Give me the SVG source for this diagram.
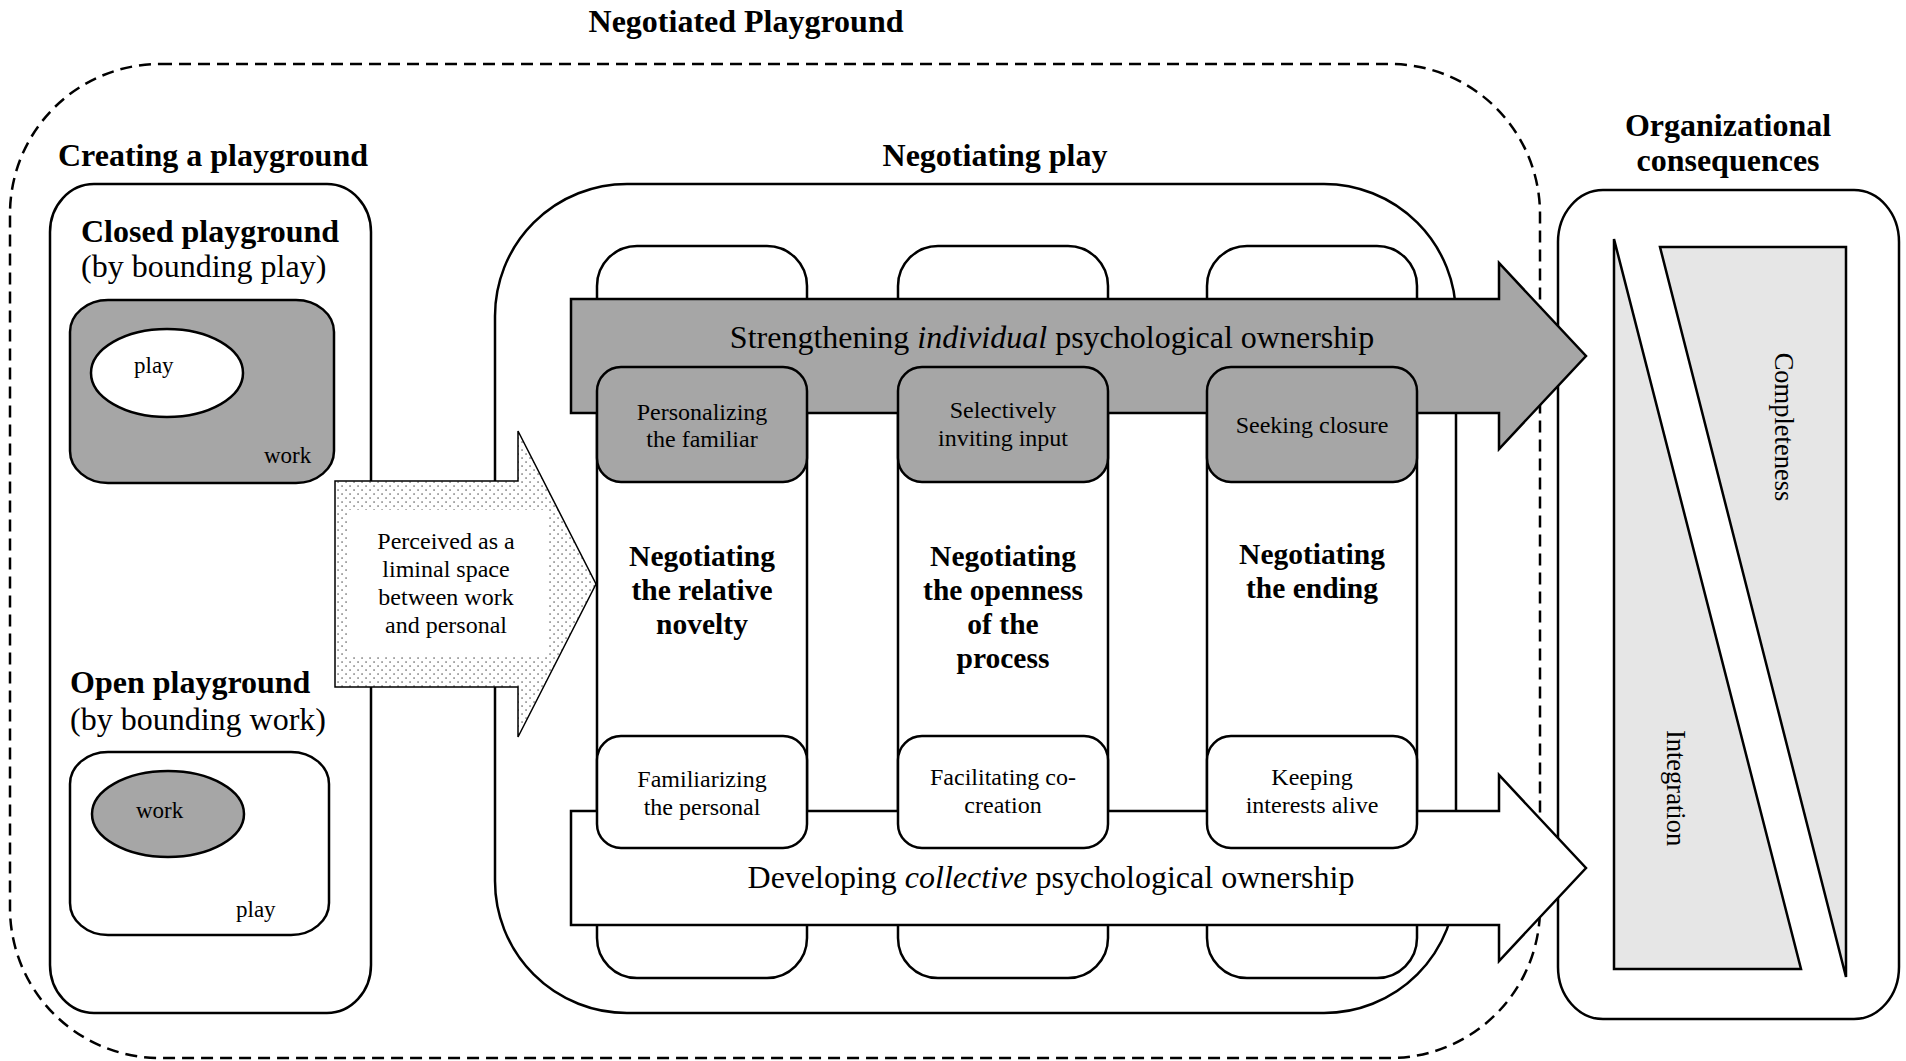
<svg xmlns="http://www.w3.org/2000/svg" width="1906" height="1061" viewBox="0 0 1906 1061">
<defs>
<style>
.t{font-family:"Liberation Serif","Times New Roman",serif;fill:#000}
.h{font-size:32px;font-weight:bold}
.r32{font-size:32px}
.s24{font-size:24px}
.s23{font-size:23px}
.b29{font-size:29.5px;font-weight:bold}
.m{text-anchor:middle}
.box{fill:#fff;stroke:#000;stroke-width:2.5}
.nofill{fill:none;stroke:#000;stroke-width:2.5}
.gray{fill:#a6a6a6;stroke:#000;stroke-width:2.5}
.lg{fill:#e6e6e6;stroke:#000;stroke-width:2.5}
</style>
<pattern id="dots" width="8" height="8" patternUnits="userSpaceOnUse">
<rect width="8" height="8" fill="#fff"/>
<rect x="1.5" y="1.5" width="1.1" height="1.1" fill="#000"/>
<rect x="5.5" y="5.5" width="1.1" height="1.1" fill="#000"/>
</pattern>
</defs>

<text class="t h m" x="746" y="32">Negotiated Playground</text>

<g id="negotiated-playground">
<rect x="10" y="64" width="1530" height="994" rx="150" ry="150" fill="none" stroke="#000" stroke-width="2.5" stroke-dasharray="12 7"/>
</g>

<g id="creating-playground">
<text class="t h" x="58" y="166">Creating a playground</text>
<rect class="box" x="50" y="184" width="321" height="829" rx="44" ry="48"/>
</g>

<g id="closed-playground">
<text class="t h" x="81" y="242">Closed playground</text>
<text class="t r32" x="81" y="277">(by bounding play)</text>
<rect class="gray" x="70" y="300" width="264" height="183" rx="38" ry="32"/>
<ellipse cx="167" cy="373" rx="76" ry="44" fill="#fff" stroke="#000" stroke-width="2.5"/>
<text class="t s23" x="134" y="373">play</text>
<text class="t s23" x="264" y="463">work</text>
</g>

<g id="open-playground">
<text class="t h" x="70" y="693">Open playground</text>
<text class="t r32" x="70" y="730">(by bounding work)</text>
<rect class="box" x="70" y="752" width="259" height="183" rx="38" ry="32"/>
<ellipse cx="168" cy="814" rx="76" ry="43" fill="#a6a6a6" stroke="#000" stroke-width="2.5"/>
<text class="t s23" x="136" y="818">work</text>
<text class="t s23" x="236" y="917">play</text>
</g>

<g id="negotiating-play">
<text class="t h m" x="995" y="166">Negotiating play</text>
<rect class="box" x="495" y="184" width="961" height="829" rx="132" ry="132"/>
</g>

<g id="organizational-consequences">
<text class="t h m" x="1728" y="136">Organizational</text>
<text class="t h m" x="1728" y="171">consequences</text>
<rect class="box" x="1558" y="190" width="341" height="829" rx="45" ry="52"/>
<polygon class="lg" points="1614,239 1614,969 1801,969"/>
<polygon class="lg" points="1660,247 1846,247 1846,977"/>
<text class="t m" style="font-size:26.5px" transform="translate(1775,427) rotate(90)">Completeness</text>
<text class="t m" style="font-size:26.5px" transform="translate(1667,788) rotate(90)">Integration</text>
</g>

<g id="columns">
<rect class="box" x="597" y="246" width="210" height="732" rx="40" ry="40"/>
<rect class="box" x="898" y="246" width="210" height="732" rx="40" ry="40"/>
<rect class="box" x="1207" y="246" width="210" height="732" rx="40" ry="40"/>
</g>

<g id="connectors">
<g id="individual-ownership-arrow">
<polygon class="gray" points="571,299 1499,299 1499,263 1586,356 1499,449 1499,413 571,413"/>
<text class="t r32 m" x="1052" y="348">Strengthening <tspan font-style="italic">individual</tspan> psychological ownership</text>
</g>
<g id="collective-ownership-arrow">
<polygon class="box" points="571,811 1499,811 1499,775 1586,868 1499,961 1499,925 571,925"/>
<text class="t r32 m" x="1051" y="888">Developing <tspan font-style="italic">collective</tspan> psychological ownership</text>
</g>
<g id="liminal-arrow">
<polygon points="335,481 518,481 518,431 596,584 518,737 518,687 335,687" fill="url(#dots)" stroke="#000" stroke-width="1.5"/>
<rect x="347" y="510" width="200" height="147" fill="#fff"/>
<text class="t s24 m" x="446" y="549">Perceived as a</text>
<text class="t s24 m" x="446" y="577">liminal space</text>
<text class="t s24 m" x="446" y="605">between work</text>
<text class="t s24 m" x="446" y="633">and personal</text>
</g>
</g>

<g id="col1">
<rect class="gray" x="597" y="367" width="210" height="115" rx="24" ry="24"/>
<text class="t s24 m" x="702" y="420">Personalizing</text>
<text class="t s24 m" x="702" y="447">the familiar</text>
<text class="t b29 m" x="702" y="566">Negotiating</text>
<text class="t b29 m" x="702" y="600">the relative</text>
<text class="t b29 m" x="702" y="634">novelty</text>
<rect class="box" x="597" y="736" width="210" height="112" rx="24" ry="24"/>
<text class="t s24 m" x="702" y="787">Familiarizing</text>
<text class="t s24 m" x="702" y="815">the personal</text>
</g>

<g id="col2">
<rect class="gray" x="898" y="367" width="210" height="115" rx="24" ry="24"/>
<text class="t s24 m" x="1003" y="418">Selectively</text>
<text class="t s24 m" x="1003" y="446">inviting input</text>
<text class="t b29 m" x="1003" y="566">Negotiating</text>
<text class="t b29 m" x="1003" y="600">the openness</text>
<text class="t b29 m" x="1003" y="634">of the</text>
<text class="t b29 m" x="1003" y="668">process</text>
<rect class="box" x="898" y="736" width="210" height="112" rx="24" ry="24"/>
<text class="t s24 m" x="1003" y="785">Facilitating co-</text>
<text class="t s24 m" x="1003" y="813">creation</text>
</g>

<g id="col3">
<rect class="gray" x="1207" y="367" width="210" height="115" rx="24" ry="24"/>
<text class="t s24 m" x="1312" y="433">Seeking closure</text>
<text class="t b29 m" x="1312" y="564">Negotiating</text>
<text class="t b29 m" x="1312" y="598">the ending</text>
<rect class="box" x="1207" y="736" width="210" height="112" rx="24" ry="24"/>
<text class="t s24 m" x="1312" y="785">Keeping</text>
<text class="t s24 m" x="1312" y="813">interests alive</text>
</g>
</svg>
